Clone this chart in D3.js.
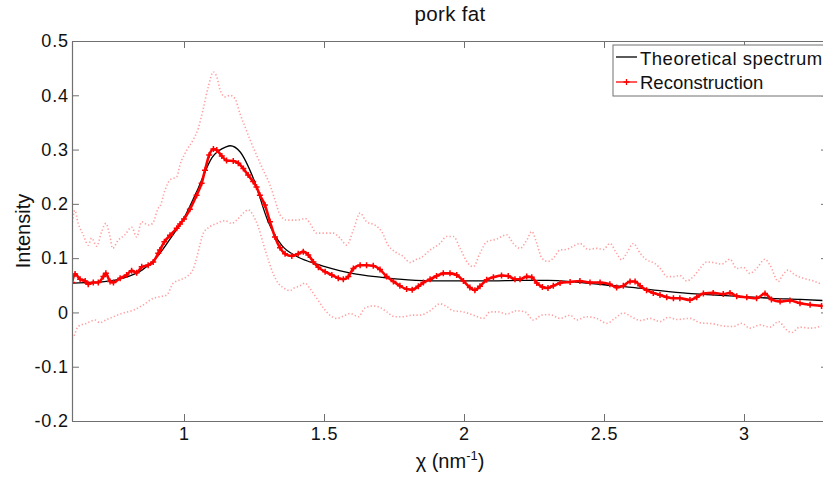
<!DOCTYPE html>
<html><head><meta charset="utf-8">
<script src="https://cdn.jsdelivr.net/npm/d3@7/dist/d3.min.js"></script>
<style>
body{margin:0;background:#fff}
svg text{font-family:"Liberation Sans",Arial,Helvetica,sans-serif;fill:#111}
</style></head>
<body><svg id="chart" width="823" height="477"></svg>
<script>
// ---------- data ----------
const title = "pork fat";
const seriesNames = ["Theoretical spectrum", "Reconstruction"];
const xTicks = [1, 1.5, 2, 2.5, 3];
const xTickLabels = ["1", "1.5", "2", "2.5", "3"];
const yTicks = [-0.2, -0.1, 0, 0.1, 0.2, 0.3, 0.4, 0.5];
const yTickLabels = ["-0.2", "-0.1", "0", "0.1", "0.2", "0.3", "0.4", "0.5"];

const theoretical = [
  [0.60,0.054],[0.65,0.055],[0.70,0.056],[0.75,0.059],[0.80,0.066],[0.85,0.078],
  [0.90,0.100],[0.95,0.135],[1.00,0.174],[1.05,0.228],[1.10,0.285],[1.15,0.305],
  [1.165,0.307],[1.20,0.296],[1.25,0.244],[1.30,0.168],[1.35,0.123],[1.40,0.104],
  [1.45,0.093],[1.50,0.085],[1.60,0.072],[1.70,0.065],[1.80,0.060],[1.90,0.058],
  [2.00,0.058],[2.10,0.058],[2.20,0.059],[2.30,0.059],[2.40,0.056],[2.50,0.051],
  [2.60,0.046],[2.70,0.040],[2.80,0.035],[2.90,0.032],[3.00,0.029],[3.10,0.026],
  [3.20,0.024],[3.28,0.022]
];

const reconstruction = [
  [0.600,0.055],[0.611,0.071],[0.629,0.061],[0.647,0.058],[0.658,0.052],[0.676,0.055],
  [0.694,0.055],[0.712,0.066],[0.721,0.072],[0.736,0.057],[0.748,0.055],[0.772,0.063],
  [0.795,0.069],[0.813,0.077],[0.831,0.073],[0.849,0.084],[0.872,0.087],[0.890,0.093],
  [0.908,0.109],[0.914,0.115],[0.930,0.130],[0.950,0.142],[0.974,0.155],[0.986,0.163],
  [1.000,0.172],[1.021,0.190],[1.045,0.216],[1.063,0.238],[1.075,0.262],[1.090,0.290],
  [1.105,0.301],[1.117,0.299],[1.135,0.288],[1.152,0.280],[1.176,0.279],[1.194,0.275],
  [1.212,0.265],[1.229,0.253],[1.247,0.241],[1.259,0.231],[1.271,0.216],[1.289,0.198],
  [1.307,0.167],[1.325,0.139],[1.343,0.119],[1.361,0.108],[1.385,0.104],[1.408,0.108],
  [1.426,0.112],[1.444,0.106],[1.462,0.093],[1.480,0.083],[1.504,0.075],[1.528,0.069],
  [1.551,0.063],[1.569,0.061],[1.587,0.066],[1.605,0.081],[1.629,0.087],[1.652,0.087],
  [1.676,0.086],[1.700,0.079],[1.724,0.066],[1.748,0.057],[1.771,0.049],[1.795,0.043],
  [1.815,0.042],[1.837,0.048],[1.855,0.055],[1.879,0.061],[1.902,0.067],[1.926,0.072],
  [1.950,0.072],[1.974,0.069],[1.998,0.058],[2.021,0.046],[2.039,0.041],[2.057,0.048],
  [2.081,0.060],[2.105,0.065],[2.134,0.068],[2.158,0.067],[2.182,0.061],[2.200,0.061],
  [2.224,0.066],[2.242,0.065],[2.260,0.054],[2.280,0.047],[2.300,0.045],[2.319,0.049],
  [2.343,0.054],[2.379,0.056],[2.414,0.058],[2.450,0.055],[2.486,0.055],[2.521,0.052],
  [2.545,0.046],[2.569,0.049],[2.593,0.057],[2.611,0.057],[2.629,0.049],[2.652,0.041],
  [2.676,0.036],[2.700,0.032],[2.724,0.028],[2.748,0.026],[2.771,0.026],[2.807,0.023],
  [2.831,0.028],[2.855,0.035],[2.890,0.036],[2.926,0.034],[2.950,0.036],[2.974,0.030],
  [3.010,0.028],[3.045,0.026],[3.075,0.035],[3.098,0.024],[3.129,0.020],[3.164,0.022],
  [3.200,0.017],[3.236,0.014],[3.277,0.012]
];

const upperBound = [
  [0.600,0.160],[0.610,0.188],[0.622,0.164],[0.640,0.143],[0.658,0.124],[0.670,0.137],
  [0.688,0.122],[0.706,0.149],[0.721,0.164],[0.736,0.139],[0.745,0.118],[0.765,0.133],
  [0.789,0.143],[0.813,0.157],[0.831,0.139],[0.849,0.167],[0.872,0.161],[0.888,0.164],
  [0.908,0.192],[0.914,0.195],[0.932,0.225],[0.950,0.244],[0.962,0.247],[0.974,0.250],
  [0.986,0.272],[1.010,0.299],[1.033,0.318],[1.051,0.339],[1.069,0.376],[1.087,0.416],
  [1.105,0.443],[1.117,0.434],[1.129,0.410],[1.146,0.397],[1.164,0.400],[1.182,0.394],
  [1.200,0.366],[1.218,0.342],[1.236,0.318],[1.259,0.290],[1.283,0.262],[1.307,0.235],
  [1.325,0.207],[1.343,0.180],[1.367,0.170],[1.403,0.170],[1.433,0.173],[1.450,0.164],
  [1.474,0.146],[1.510,0.146],[1.533,0.146],[1.557,0.137],[1.581,0.124],[1.605,0.152],
  [1.629,0.183],[1.652,0.167],[1.682,0.161],[1.706,0.149],[1.729,0.124],[1.753,0.112],
  [1.783,0.103],[1.807,0.092],[1.831,0.098],[1.843,0.100],[1.879,0.115],[1.914,0.127],
  [1.938,0.140],[1.962,0.140],[1.986,0.118],[2.015,0.090],[2.033,0.084],[2.057,0.109],
  [2.081,0.130],[2.116,0.135],[2.152,0.143],[2.176,0.127],[2.200,0.118],[2.224,0.133],
  [2.242,0.149],[2.260,0.127],[2.278,0.100],[2.300,0.094],[2.319,0.100],[2.343,0.115],
  [2.367,0.116],[2.390,0.122],[2.414,0.127],[2.444,0.116],[2.474,0.118],[2.498,0.116],
  [2.521,0.127],[2.545,0.109],[2.563,0.097],[2.581,0.109],[2.605,0.127],[2.629,0.109],
  [2.652,0.097],[2.682,0.090],[2.706,0.078],[2.724,0.066],[2.748,0.066],[2.771,0.068],
  [2.795,0.058],[2.819,0.066],[2.843,0.081],[2.867,0.093],[2.890,0.092],[2.920,0.089],
  [2.950,0.098],[2.974,0.081],[2.998,0.083],[3.021,0.072],[3.045,0.081],[3.075,0.098],
  [3.093,0.087],[3.123,0.057],[3.135,0.066],[3.158,0.078],[3.182,0.069],[3.212,0.063],
  [3.248,0.058],[3.277,0.052]
];

const lowerBound = [
  [0.600,-0.048],[0.605,-0.045],[0.622,-0.026],[0.652,-0.020],[0.682,-0.014],[0.700,-0.019],
  [0.724,-0.013],[0.748,-0.008],[0.783,-0.001],[0.819,0.004],[0.855,0.014],[0.890,0.026],
  [0.914,0.029],[0.938,0.032],[0.962,0.054],[0.986,0.060],[1.010,0.066],[1.033,0.080],
  [1.045,0.100],[1.057,0.125],[1.069,0.146],[1.093,0.158],[1.117,0.164],[1.146,0.169],
  [1.170,0.164],[1.194,0.173],[1.212,0.183],[1.229,0.189],[1.247,0.179],[1.265,0.158],
  [1.283,0.127],[1.301,0.097],[1.318,0.072],[1.336,0.054],[1.354,0.046],[1.379,0.040],
  [1.390,0.044],[1.414,0.049],[1.432,0.054],[1.450,0.044],[1.474,0.026],[1.498,0.008],
  [1.521,-0.005],[1.545,-0.011],[1.569,-0.007],[1.593,-0.002],[1.623,-0.008],[1.646,0.008],
  [1.676,0.012],[1.700,0.009],[1.724,0.001],[1.753,-0.008],[1.783,-0.008],[1.813,-0.005],
  [1.843,-0.005],[1.879,0.003],[1.914,0.016],[1.938,0.011],[1.962,0.003],[1.998,0.001],
  [2.033,-0.005],[2.069,-0.011],[2.093,0.001],[2.122,0.001],[2.152,-0.003],[2.188,0.003],
  [2.218,0.001],[2.248,-0.014],[2.278,-0.005],[2.307,-0.004],[2.343,-0.011],[2.379,-0.005],
  [2.402,-0.014],[2.438,-0.008],[2.474,-0.011],[2.510,-0.020],[2.539,-0.011],[2.569,-0.001],
  [2.598,-0.008],[2.629,-0.015],[2.664,-0.011],[2.700,-0.017],[2.730,-0.009],[2.759,-0.013],
  [2.807,-0.011],[2.843,-0.019],[2.890,-0.021],[2.926,-0.025],[2.962,-0.026],[2.992,-0.020],
  [3.021,-0.029],[3.057,-0.023],[3.093,-0.027],[3.123,-0.017],[3.152,-0.032],[3.170,-0.037],
  [3.200,-0.027],[3.236,-0.029],[3.277,-0.025]
];

// ---------- layout ----------
const svg = d3.select("#chart");
const L = 72, T = 41, B = 421, R = 828;
const x = d3.scaleLinear().domain([0.6, 3.3]).range([L, R]);
const y = d3.scaleLinear().domain([-0.2, 0.5]).range([B, T]);
const axisColor = "#707070";

svg.append("rect").attr("x",0).attr("y",0).attr("width",823).attr("height",477).attr("fill","#fff");

svg.append("defs").append("clipPath").attr("id","plotclip")
  .append("rect").attr("x",L).attr("y",T).attr("width",R-L).attr("height",B-T);

const plot = svg.append("g").attr("clip-path","url(#plotclip)");

const line = d3.line().x(d=>x(d[0])).y(d=>y(d[1])).curve(d3.curveMonotoneX);

// bounds (dotted, light red)
[upperBound, lowerBound].forEach(s => {
  plot.append("path").datum(s).attr("d", line)
    .attr("fill","none").attr("stroke","#ffa0a0").attr("stroke-width",1.6)
    .attr("stroke-dasharray","1.3 2.2");
});

// theoretical spectrum
plot.append("path").datum(theoretical).attr("d", line)
  .attr("fill","none").attr("stroke","#000").attr("stroke-width",1.3);

// reconstruction
plot.append("path").datum(reconstruction).attr("d", line)
  .attr("fill","none").attr("stroke","#ff0000").attr("stroke-width",2.6);
const plusPath = "M-3,0H3M0,-3V3";
plot.append("g").selectAll("path").data(reconstruction).join("path")
  .attr("transform", d=>`translate(${x(d[0])},${y(d[1])})`)
  .attr("d", plusPath).attr("stroke","#ff0000").attr("stroke-width",1.5).attr("fill","none");

// ---------- axes ----------
const fmtX = d => xTickLabels[xTicks.indexOf(d)];
const fmtY = d => yTickLabels[yTicks.indexOf(d)];

const gx = svg.append("g").attr("transform",`translate(0,${B})`)
  .call(d3.axisBottom(x).tickValues(xTicks).tickFormat(fmtX).tickSizeInner(-7).tickSizeOuter(0).tickPadding(6));
const gxt = svg.append("g").attr("transform",`translate(0,${T})`)
  .call(d3.axisTop(x).tickValues(xTicks).tickFormat("").tickSizeInner(-7).tickSizeOuter(0));
const gy = svg.append("g").attr("transform",`translate(${L},0)`)
  .call(d3.axisLeft(y).tickValues(yTicks).tickFormat(fmtY).tickSizeInner(-7).tickSizeOuter(0).tickPadding(3));
const gyr = svg.append("g").attr("transform",`translate(${R},0)`)
  .call(d3.axisRight(y).tickValues(yTicks).tickFormat("").tickSizeInner(-7).tickSizeOuter(0));

[gx,gxt,gy,gyr].forEach(g=>{
  g.selectAll(".domain").attr("stroke",axisColor).attr("stroke-width",1.2);
  g.selectAll(".tick line").attr("stroke",axisColor).attr("stroke-width",1);
  g.selectAll("text").attr("font-size",18).attr("fill","#111")
    .style("font-family","'Liberation Sans',Arial,sans-serif").style("letter-spacing","0.9px");
});

// ---------- labels ----------
svg.append("text").attr("x",(L+R)/2).attr("y",21).attr("text-anchor","middle")
  .attr("font-size",20.5).style("letter-spacing","0.3px").text(title);

const xl = svg.append("text").attr("x",(L+R)/2).attr("y",468).attr("text-anchor","middle").attr("font-size",20);
xl.append("tspan").text("\u03C7 (nm");
xl.append("tspan").attr("font-size",13).attr("dy",-8).text("-1");
xl.append("tspan").attr("dy",8).text(")");

svg.append("text").attr("transform",`translate(30,${(T+B)/2}) rotate(-90)`)
  .attr("text-anchor","middle").attr("font-size",20).text("Intensity");

// ---------- legend ----------
const lg = svg.append("g");
lg.append("rect").attr("x",613).attr("y",45).attr("width",260).attr("height",51)
  .attr("fill","#fff").attr("stroke",axisColor).attr("stroke-width",1);
lg.append("line").attr("x1",616).attr("x2",637).attr("y1",57).attr("y2",57)
  .attr("stroke","#000").attr("stroke-width",1.3);
lg.append("text").attr("x",640).attr("y",65).attr("font-size",18.5).style("letter-spacing","0.5px").text(seriesNames[0]);
lg.append("line").attr("x1",616).attr("x2",637).attr("y1",82).attr("y2",82)
  .attr("stroke","#ff0000").attr("stroke-width",1.3);
lg.append("path").attr("transform","translate(626.5,82)").attr("d",plusPath)
  .attr("stroke","#ff0000").attr("stroke-width",1.3);
lg.append("text").attr("x",640).attr("y",89).attr("font-size",18.5).text(seriesNames[1]);
</script>
</body></html>
